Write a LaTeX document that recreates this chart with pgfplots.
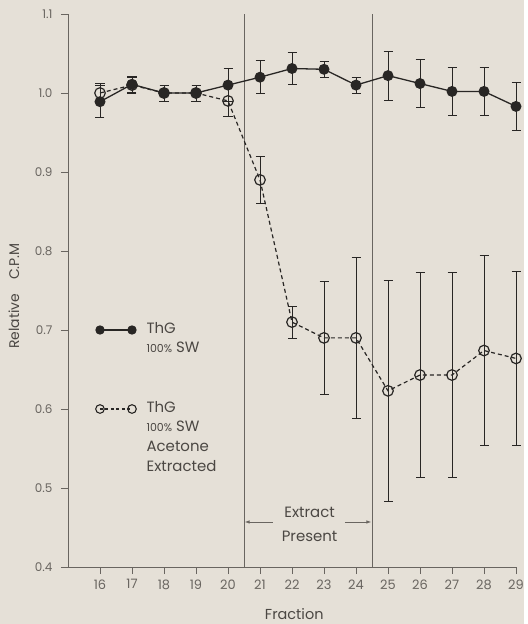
\documentclass[border=0pt]{standalone}
\usepackage{pgfplots}
\pgfplotsset{compat=1.18}
\usepackage{fontspec}
\setmainfont{Poppins}
\usetikzlibrary{backgrounds,arrows.meta}
\definecolor{paper}{RGB}{229,224,215}
\definecolor{ink}{RGB}{40,38,36}
\definecolor{axisgray}{RGB}{105,101,96}
\definecolor{labgray}{RGB}{75,71,67}
\begin{document}
\begin{tikzpicture}
\begin{axis}[
  scale only axis, width=448bp, height=553bp,
  xmin=15, xmax=29, ymin=0.4, ymax=1.1,
  axis lines=left,
  axis line style={-, draw=axisgray, line width=0.9pt},
  xtick={16,...,29}, ytick={0.4,0.5,0.6,0.7,0.8,0.9,1.0,1.1},
  tick align=outside, major tick length=7bp,
  tick style={draw=axisgray, line width=0.8pt},
  /pgf/number format/assume math mode=true,
  yticklabel style={/pgf/number format/fixed, /pgf/number format/fixed zerofill, /pgf/number format/precision=1, font=\fontsize{12}{14}\selectfont, text=axisgray, xshift=-5bp},
  xticklabel style={font=\fontsize{13}{15}\selectfont, text=axisgray, yshift=-2bp},
  xlabel={Fraction}, ylabel={Relative\quad C.P.M},
  xlabel style={font=\fontsize{14.5}{16}\selectfont, text=labgray, at={(axis description cs:0.505,-0.085)}, anchor=center},
  ylabel style={font=\fontsize{14}{16}\selectfont, text=labgray, at={(axis description cs:-0.121,0.49)}, anchor=center},
  clip=false,
]
% separators
\addplot[axisgray, line width=0.9pt] coordinates {(20.5,0.4) (20.5,1.1)};
\addplot[axisgray, line width=0.9pt] coordinates {(24.5,0.4) (24.5,1.1)};
% open series: ThG 100% SW acetone extracted
\addplot[ink, line width=1.2pt, dash pattern=on 4pt off 3pt,
  mark=o, mark size=5.3bp, mark options={solid, fill=paper, line width=1.2pt},
  error bars/.cd, y dir=both, y explicit,
  error bar style={solid, line width=0.8pt, draw=ink},
  error mark options={solid, rotate=90, mark size=4.5bp, line width=0.8pt, draw=ink}]
coordinates {
 (16,1.00) +- (0,0.012)
 (17,1.01) +- (0,0.01)
 (18,1.00) +- (0,0.01)
 (19,1.00) +- (0,0.01)
 (20,0.99) +- (0,0.02)
 (21,0.89) +- (0,0.03)
 (22,0.71) +- (0,0.02)
 (23,0.69) +- (0,0.071)
 (24,0.69) +- (0,0.102)
 (25,0.623) +- (0,0.14)
 (26,0.643) +- (0,0.13)
 (27,0.643) +- (0,0.13)
 (28,0.674) +- (0,0.12)
 (29,0.664) +- (0,0.11)
};
% filled series: ThG 100% SW
\addplot[ink, line width=1.3pt, solid,
  mark=*, mark size=4.8bp, mark options={fill=ink},
  error bars/.cd, y dir=both, y explicit,
  error bar style={line width=0.8pt, draw=ink},
  error mark options={rotate=90, mark size=4.5bp, line width=0.8pt, draw=ink}]
coordinates {
 (16,0.989) +- (0,0.02)
 (17,1.011) +- (0,0.01)
 (18,1.00) +- (0,0.01)
 (19,1.00) +- (0,0.01)
 (20,1.01) +- (0,0.021)
 (21,1.02) +- (0,0.021)
 (22,1.031) +- (0,0.02)
 (23,1.03) +- (0,0.01)
 (24,1.01) +- (0,0.01)
 (25,1.022) +- (0,0.031)
 (26,1.012) +- (0,0.03)
 (27,1.002) +- (0,0.03)
 (28,1.002) +- (0,0.03)
 (29,0.983) +- (0,0.03)
};
% legend samples
\addplot[ink, line width=1.3pt, mark=*, mark size=4bp, mark options={fill=ink}] coordinates {(16,0.70) (17,0.70)};
\addplot[ink, line width=1.1pt, dash pattern=on 3pt off 2.5pt, mark=o, mark size=4.3bp, mark options={solid, fill=paper, line width=1.1pt}] coordinates {(16,0.60) (17,0.60)};
% legend text
\begin{scope}[every node/.style={anchor=west, text=labgray, font=\fontsize{15}{17}\selectfont, inner sep=0pt}]
\node at (axis cs:17.45,0.703) {ThG};
\node at (axis cs:17.45,0.678) {{\fontsize{11}{13}\selectfont 100\%} SW};
\node at (axis cs:17.45,0.603) {ThG};
\node at (axis cs:17.45,0.578) {{\fontsize{11}{13}\selectfont 100\%} SW};
\node at (axis cs:17.45,0.553) {Acetone};
\node at (axis cs:17.45,0.528) {Extracted};
\end{scope}
% extract present annotation
\node[text=labgray, font=\fontsize{15}{17}\selectfont, inner sep=0pt] at (axis cs:22.55,0.469) {Extract};
\node[text=labgray, font=\fontsize{15}{17}\selectfont, inner sep=0pt] at (axis cs:22.55,0.439) {Present};
\draw[axisgray, line width=0.8pt, -{Latex[length=5bp,width=3.5bp]}] (axis cs:21.4,0.457) -- (axis cs:20.52,0.457);
\draw[axisgray, line width=0.8pt, -{Latex[length=5bp,width=3.5bp]}] (axis cs:23.65,0.457) -- (axis cs:24.48,0.457);
\end{axis}
\path[use as bounding box] (-68bp,-57bp) rectangle (456bp,567bp);
\begin{pgfonlayer}{background}
\fill[paper] (-68bp,-57bp) rectangle (456bp,567bp);
\end{pgfonlayer}
\end{tikzpicture}
\end{document}
